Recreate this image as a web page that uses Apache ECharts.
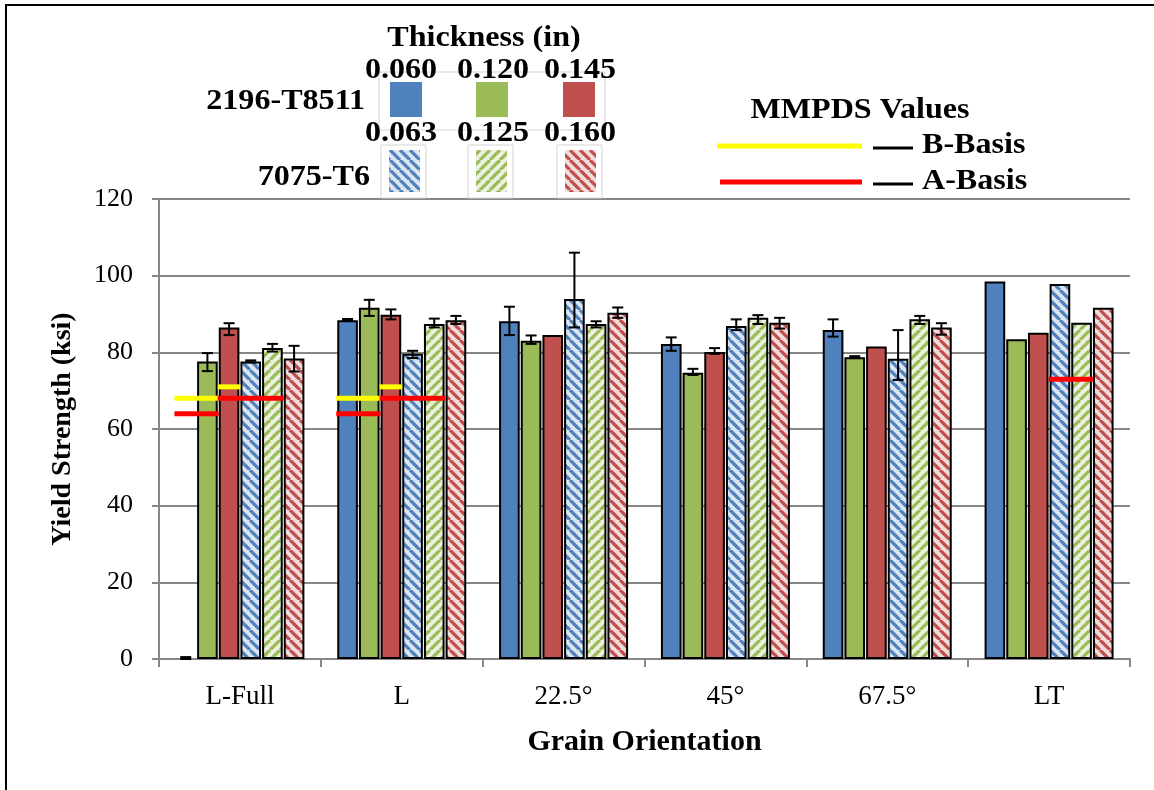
<!DOCTYPE html>
<html><head><meta charset="utf-8">
<script src="https://cdn.jsdelivr.net/npm/echarts@6/dist/echarts.min.js"></script>
<style>html,body{margin:0;padding:0;background:#fff}#c{width:1154px;height:790px}</style>
</head><body><div id="c"></div>
<script>
// ---------------- DATA ----------------
const categories = ['L-Full', 'L', '22.5°', '45°', '67.5°', 'LT'];
const yMin = 0, yMax = 120, yStep = 20;

const alloys = ['2196-T8511', '7075-T6'];
const thickness2196 = ['0.060', '0.120', '0.145'];
const thickness7075 = ['0.063', '0.125', '0.160'];

// bar values (ksi); null = no bar
const y2196_060 = [null, 88.4, 88.1, 82.2, 85.8, 98.5];
const y2196_120 = [77.6, 91.6, 83.0, 74.7, 78.7, 83.4];
const y2196_145 = [86.5, 89.8, 84.5, 80.1, 81.5, 85.1];
const y7075_063 = [77.6, 79.6, 93.9, 86.9, 78.3, 97.8];
const y7075_125 = [81.1, 87.4, 87.4, 89.0, 88.6, 87.7];
const y7075_160 = [78.4, 88.4, 90.3, 87.7, 86.5, 91.6];

// error bar ends [low, high]; null = no error bar
const e2196_060 = [[0, 0.5], [88.2, 88.7], [84.5, 91.9], [80.4, 83.9], [84.1, 88.6], null];
const e2196_120 = [[75.1, 79.8], [89.5, 93.7], [82.2, 84.4], [74.1, 75.7], [78.5, 79.0], null];
const e2196_145 = [[84.5, 87.6], [88.6, 91.2], null, [79.6, 81.1], null, null];
const e7075_063 = [[77.4, 77.9], [78.5, 80.4], [86.5, 106.0], [85.8, 88.6], [72.8, 85.8], null];
const e7075_125 = [[80.2, 82.2], [86.5, 88.8], [86.5, 88.1], [87.4, 89.7], [87.4, 89.5], null];
const e7075_160 = [[75.0, 81.7], [87.4, 89.5], [89.0, 91.7], [86.2, 89.0], [84.6, 87.6], null];

// MMPDS reference values: [category index, first bar, last bar, value]
const mmpdsB = [[0, 0, 1, 68], [0, 2, 2, 71], [1, 0, 1, 68], [1, 2, 2, 71]];
const mmpdsA = [[0, 0, 1, 64], [0, 2, 4, 68], [1, 0, 1, 64], [1, 2, 4, 68], [5, 3, 4, 73]];
const mmpdsLabels = ['MMPDS Values', 'B-Basis', 'A-Basis'];

// ---------------- STYLE ----------------
const FONT = '"Liberation Serif", "Times New Roman", serif';
const solid = ['#4f81bd', '#9bbb59', '#c0504d'];
const hatchBg = ['#dce6f2', '#ebf1de', '#f2dcdb'];
const hatchDir = ['\\', '/', '\\'];
const GRAY = '#878787';
const CAT_GAP = 0.203, BAR_GAP = 0.05, NBARS = 6;

function hatch(fg, bg, dir) {
  const s = 10;
  const c = document.createElement('canvas'); c.width = s; c.height = s;
  const g = c.getContext('2d');
  g.fillStyle = bg; g.fillRect(0, 0, s, s);
  g.strokeStyle = fg; g.lineWidth = 3.2;
  g.beginPath();
  for (let o = -s; o <= s; o += s) {
    if (dir === '\\') { g.moveTo(o, 0); g.lineTo(o + s, s); }
    else { g.moveTo(o + s, 0); g.lineTo(o, s); }
  }
  g.stroke();
  return c;
}
const fills = solid.concat(solid.map((c, i) => ({ image: hatch(c, hatchBg[i], hatchDir[i]), repeat: 'repeat' })));

const values = [y2196_060, y2196_120, y2196_145, y7075_063, y7075_125, y7075_160];
const errors = [e2196_060, e2196_120, e2196_145, e7075_063, e7075_125, e7075_160];
const names = thickness2196.map(t => alloys[0] + ' ' + t).concat(thickness7075.map(t => alloys[1] + ' ' + t));

function barGeom(api, cat, k) {
  const band = api.size([1, 0])[0];
  const groupW = band * (1 - CAT_GAP);
  const barW = groupW / (NBARS + (NBARS - 1) * BAR_GAP);
  const cx = api.coord([cat, 0])[0];
  const left = cx - groupW / 2 + k * barW * (1 + BAR_GAP);
  return { left: left, w: barW };
}

const barSeries = values.map((v, i) => ({
  name: names[i], type: 'bar', data: v,
  barGap: (BAR_GAP * 100) + '%', barCategoryGap: (CAT_GAP * 100) + '%',
  itemStyle: { color: fills[i], borderColor: '#000', borderWidth: 2 },
  z: 2
}));

const errData = [];
errors.forEach((arr, k) => arr.forEach((e, cat) => { if (e) errData.push([cat, k, e[0], e[1]]); }));

const errSeries = {
  type: 'custom', name: 'error', data: errData, z: 5,
  encode: { x: 0, y: [2, 3] },
  renderItem: function (params, api) {
    const cat = api.value(0), k = api.value(1);
    const g = barGeom(api, cat, k);
    const x = g.left + g.w / 2;
    const lo = api.coord([cat, api.value(2)])[1];
    const hi = api.coord([cat, api.value(3)])[1];
    const cw = 5.5;
    const st = { stroke: '#000', lineWidth: 2 };
    return { type: 'group', children: [
      { type: 'line', shape: { x1: x, y1: lo, x2: x, y2: hi }, style: st },
      { type: 'line', shape: { x1: x - cw, y1: lo, x2: x + cw, y2: lo }, style: st },
      { type: 'line', shape: { x1: x - cw, y1: hi, x2: x + cw, y2: hi }, style: st }
    ] };
  }
};

function mmpdsSeries(data, color, name) {
  return {
    type: 'custom', name: name, data: data, z: 6,
    encode: { x: 0, y: 3 },
    renderItem: function (params, api) {
      const cat = api.value(0);
      const a = barGeom(api, cat, api.value(1));
      const b = barGeom(api, cat, api.value(2));
      const y = api.coord([cat, api.value(3)])[1];
      return { type: 'line', shape: { x1: a.left - 1, y1: y, x2: b.left + b.w + 1, y2: y },
        style: { stroke: color, lineWidth: 5 } };
    }
  };
}

// ---------------- LEGEND (graphic) ----------------
const bold = 'bold 30px ' + FONT;
function txt(text, x, y, align) {
  return { type: 'text', x: x, y: y, z: 10, scaleX: 1.07,
    style: { text: text, x: 0, y: 0, font: bold, fill: '#000', textAlign: align || 'center', textVerticalAlign: 'middle', verticalAlign: 'middle' } };
}
const colX = [401, 493, 580];
const swX = [[390, 476, 563], [389, 476, 565]];
const graphics = [
  { type: 'rect', shape: { x: 6, y: 5, width: 1300, height: 1000 }, style: { fill: 'none', stroke: '#000', lineWidth: 2 }, z: 0 },
  txt('Thickness (in)', 484, 38),
  { type: 'rect', shape: { x: 379, y: 72, width: 226, height: 58 }, style: { fill: 'none', stroke: '#d4d4d4', lineWidth: 1 }, z: 9 }
];
thickness2196.forEach((t, i) => {
  graphics.push(txt(t, colX[i], 70));
  graphics.push({ type: 'rect', z: 10, shape: { x: swX[0][i], y: 82, width: 32, height: 35 }, style: { fill: fills[i] } });
});
thickness7075.forEach((t, i) => {
  graphics.push({ type: 'rect', z: 9, shape: { x: swX[1][i] - 8, y: 145, width: 45, height: 53 }, style: { fill: '#fff', stroke: '#d4d4d4', lineWidth: 1 } });
  graphics.push(txt(t, colX[i], 133));
  graphics.push({ type: 'rect', z: 10, shape: { x: swX[1][i], y: 150, width: 31, height: 42 }, style: { fill: fills[3 + i] } });
});
graphics.push(txt(alloys[0], 365, 101, 'right'));
graphics.push(txt(alloys[1], 370, 177, 'right'));
graphics.push(txt(mmpdsLabels[0], 860, 110));
graphics.push({ type: 'line', z: 10, shape: { x1: 717, y1: 146, x2: 862, y2: 146 }, style: { stroke: '#ffff00', lineWidth: 5 } });
graphics.push({ type: 'line', z: 10, shape: { x1: 873, y1: 148, x2: 913, y2: 148 }, style: { stroke: '#000', lineWidth: 3 } });
graphics.push(txt(mmpdsLabels[1], 922, 145, 'left'));
graphics.push({ type: 'line', z: 10, shape: { x1: 720, y1: 182, x2: 862, y2: 182 }, style: { stroke: '#ff0000', lineWidth: 5 } });
graphics.push({ type: 'line', z: 10, shape: { x1: 873, y1: 184, x2: 913, y2: 184 }, style: { stroke: '#000', lineWidth: 3 } });
graphics.push(txt(mmpdsLabels[2], 922, 181, 'left'));

// ---------------- CHART ----------------
const chart = echarts.init(document.getElementById('c'), null, { renderer: 'canvas' });
chart.setOption({
  animation: false,
  backgroundColor: '#fff',
  grid: { left: 159, right: 24, top: 199, bottom: 131, containLabel: false },
  xAxis: {
    type: 'category', data: categories,
    axisLine: { lineStyle: { color: GRAY, width: 2 } },
    axisTick: { show: true, length: 8, lineStyle: { color: GRAY, width: 2 } },
    axisLabel: { color: '#000', fontFamily: FONT, fontSize: 27, margin: 24 },
    name: 'Grain Orientation', nameLocation: 'middle', nameGap: 68,
    nameTextStyle: { color: '#000', fontFamily: FONT, fontSize: 30, fontWeight: 'bold' }
  },
  yAxis: {
    type: 'value', min: yMin, max: yMax, interval: yStep,
    axisLine: { show: true, lineStyle: { color: GRAY, width: 2 } },
    axisTick: { show: true, length: 7, lineStyle: { color: GRAY, width: 2 } },
    splitLine: { show: true, lineStyle: { color: GRAY, width: 2 } },
    axisLabel: { color: '#000', fontFamily: FONT, fontSize: 26, margin: 26 },
    name: 'Yield Strength (ksi)', nameLocation: 'middle', nameGap: 82, nameRotate: 90,
    nameTextStyle: { color: '#000', fontFamily: FONT, fontSize: 28, fontWeight: 'bold' }
  },
  series: barSeries.concat([errSeries, mmpdsSeries(mmpdsB, '#ffff00', 'B-Basis'), mmpdsSeries(mmpdsA, '#ff0000', 'A-Basis')]),
  graphic: graphics
});
</script>
</body></html>
